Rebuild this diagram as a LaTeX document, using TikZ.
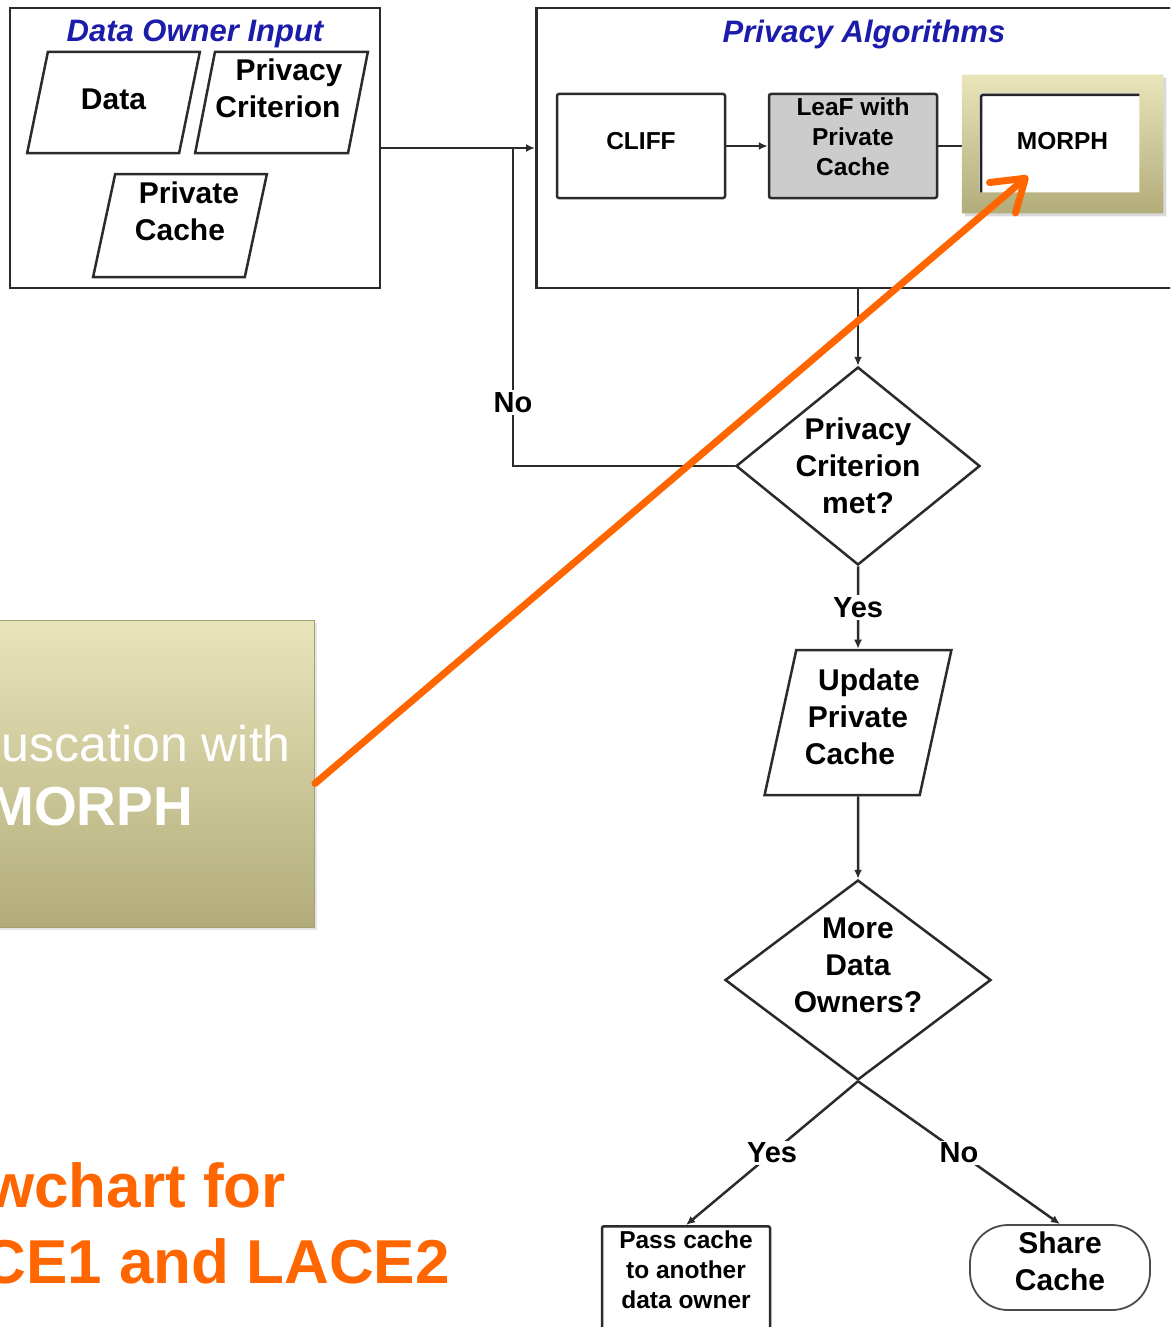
\documentclass[tikz,border=0pt]{standalone}
\usepackage{fontspec}
\setmainfont{Liberation Sans}
\usepackage{xcolor}
\usetikzlibrary{shapes,arrows.meta,positioning,calc,shadows}

\definecolor{ink}{RGB}{43,43,43}
\definecolor{titleblue}{RGB}{28,28,170}
\definecolor{leafgray}{RGB}{204,204,204}
\definecolor{olivetop}{RGB}{233,229,186}
\definecolor{olivebot}{RGB}{178,172,122}
\definecolor{oliveedge}{RGB}{165,160,112}
\definecolor{callout}{RGB}{255,102,0}

% rows of a node raised a little above the shape's centre
\newcommand{\liftrows}[2]{\raisebox{#1}[\height][\depth]{\begin{tabular}{@{}c@{}}#2\end{tabular}}}

\begin{document}
\begin{tikzpicture}[x=1pt,y=-1pt,
  flow/.style={draw=ink, line width=2.5pt},
  arr/.style={flow, -{Latex[length=9pt,width=8pt]}},
  procbox/.style={flow, rectangle, rounded corners=2pt, minimum width=168pt, minimum height=104pt, align=center, font=\bfseries\fontsize{24.5}{30}\selectfont},
  iobox/.style={flow, trapezium, trapezium left angle=75.5, trapezium right angle=104.5, trapezium stretches=true, inner xsep=-12pt, inner ysep=-6pt, align=center, font=\bfseries\fontsize{30}{37}\selectfont},
  decision/.style={flow, diamond, inner sep=-10pt, align=center, font=\bfseries\fontsize{30}{37}\selectfont},
  grouptitle/.style={text=titleblue, font=\bfseries\itshape\fontsize{31}{37}\selectfont},
  answer/.style={fill=white, inner sep=2pt, font=\bfseries\fontsize{29}{37}\selectfont}]

\useasboundingbox (0,0) rectangle (1170,1327);
\clip (0,0) rectangle (1170,1327);
\fill[white] (0,0) rectangle (1170,1327);

% what the data owner brings
\node[flow, minimum width=370pt, minimum height=280pt] (doi) at (195,148) {};
\node[grouptitle] (doititle) at (195,34) {Data Owner Input};
\node[iobox, minimum width=173pt, minimum height=101pt] (data) at (113.5,102.5) {\liftrows{0pt}{Data}};
\node[iobox, minimum width=173pt, minimum height=101pt] (crit) at (281.5,102.5) {\liftrows{11pt}{\hspace*{15pt}Privacy\\Criterion\hspace*{7pt}}};
\node[iobox, minimum width=174pt, minimum height=103pt] (cache) at (180,225.5) {\liftrows{11pt}{\hspace*{18pt}Private\\Cache}};

% the three algorithms
\node[flow, minimum width=700pt, minimum height=280pt, anchor=west] (algo) at (535,148) {};
\node[grouptitle] (algotitle) at (864,34) {Privacy Algorithms};
\node[procbox] (cliff) at (641,146) {\liftrows{2pt}{CLIFF}};
\node[procbox, fill=leafgray, right=41.5pt of cliff] (leaf) {\liftrows{6pt}{LeaF with\\Private\\Cache}};
\node[procbox, minimum width=163pt, minimum height=102pt, right=41.5pt of leaf] (morph) {\liftrows{2pt}{MORPH}};

\draw[arr] (doi.east) -- (doi.east -| algo.west);
\draw[arr] (cliff) -- (leaf);
\draw[arr] (leaf) -- (morph);

% checks after the algorithms
\node[decision, minimum width=244pt, minimum height=198pt] (met) at (858,466) {Privacy\\Criterion\\met?};
\draw[arr] (met.north |- algo.south) -- (met.north);
\coordinate (join) at (513,148);
\draw[flow] (met.west) -| node[answer, pos=.6] {No} (join);

\node[iobox, minimum width=187pt, minimum height=145pt] (upd) at (858,722.5) {\liftrows{2pt}{\hspace*{22pt}Update\\Private\\Cache\hspace*{16pt}}};
\draw[arr] (met.south) -- node[answer] {Yes} (upd.north);

\node[decision, minimum width=266pt, minimum height=200pt] (more) at (858,980) {\liftrows{12pt}{More\\Data\\Owners?}};
\draw[arr] (upd.south) -- (more.north);

\node[procbox, anchor=north, minimum height=130pt] (pass) at (686,1225) {};
\node[anchor=north, align=center, inner sep=0, font=\bfseries\fontsize{24.5}{30}\selectfont] (passtext) at (686,1231) {Pass cache\\to another\\data owner};
\node[draw=ink!85, line width=1.8pt, rounded corners=38pt, minimum width=180pt, minimum height=85pt, align=center, font=\bfseries\fontsize{30}{37}\selectfont] (share) at (1060,1267.5) {\liftrows{3pt}{Share\\Cache}};
\draw[arr] (more.south) -- node[answer] {Yes} (pass.north);
\draw[arr] (more.south) -- node[answer] {No} (share.north);

% highlight frame round MORPH
\fill[black, opacity=.15, even odd rule] ($(morph.north west)+(-15,-16)$) rectangle ($(morph.south east)+(21,18)$)
  ($(morph.north west)+(2,2)$) rectangle ($(morph.south east)+(-3,-3)$);
\shade[top color=olivetop, bottom color=olivebot, even odd rule] ($(morph.north west)+(-18,-19)$) rectangle ($(morph.south east)+(18,15)$)
  ($(morph.north west)+(-1,-1)$) rectangle ($(morph.south east)+(-6,-6)$);

% callout box and pointer
\node[draw=oliveedge, line width=1pt, top color=olivetop, bottom color=olivebot,
  drop shadow={opacity=.2, shadow xshift=2pt, shadow yshift=-3pt},
  minimum width=560pt, minimum height=307pt, anchor=east] (obf) at (315,773.5) {};
\node[anchor=base east, inner sep=0, text=white, font=\fontsize{50}{60}\selectfont] (obfline) at (291,761) {uscation with};
\node[anchor=base west, inner sep=0, text=white, font=\bfseries\fontsize{55}{60}\selectfont] (obfname) at (-12,825) {MORPH};

\coordinate (aim) at (1028,176);
\draw[callout, line width=7pt, line cap=round, -{Straight Barb[length=30pt,width=40pt,round]}] ([yshift=-10pt]obf.east) -- (aim);

\node[anchor=base east, inner sep=0, text=callout, font=\bfseries\fontsize{62}{76}\selectfont] (capa) at (286,1207) {wchart for};
\node[anchor=base east, inner sep=0, text=callout, font=\bfseries\fontsize{62}{76}\selectfont] (capb) at (450,1283) {CE1 and LACE2};
\end{tikzpicture}
\end{document}
